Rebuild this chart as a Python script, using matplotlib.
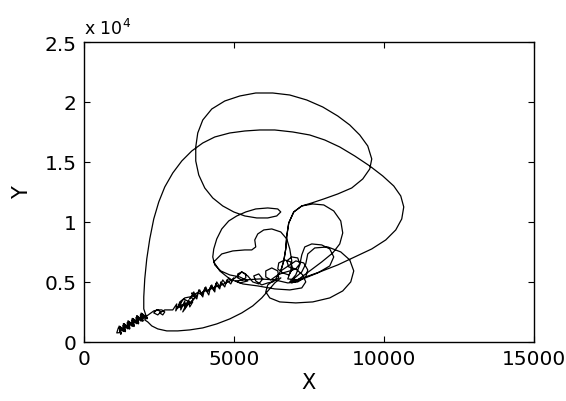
import matplotlib
matplotlib.use('Agg')
import matplotlib.pyplot as plt

plt.rcParams['font.family'] = 'DejaVu Sans'

# traced trajectory, in pieces (X, Y)
blob_x = [1233, 1173, 1380, 1320, 1527, 1467, 1673, 1613, 1820, 1760, 1967, 1907, 2113,
          2060, 1887, 1913, 1740, 1767, 1593, 1620, 1447, 1473, 1300, 1327, 1153, 1100,
          1200, 1207, 1347, 1353, 1493, 1500, 1640, 1647, 1787, 1793, 1933, 1940, 2080,
          2125, 1932, 1978, 1785, 1832, 1638, 1685, 1492, 1538, 1345, 1392, 1198, 1245,
          1195, 1322, 1342, 1468, 1488, 1615, 1635, 1762, 1782, 1908, 1928, 2055]
blob_y = [633, 1308, 850, 1525, 1067, 1742, 1283, 1958, 1500, 2175, 1717, 2392, 1933,
          1950, 2258, 1733, 2042, 1517, 1825, 1300, 1608, 1083, 1392, 867, 1175, 750,
          775, 1167, 992, 1383, 1208, 1600, 1425, 1817, 1642, 2033, 1858, 2250, 2075,
          1993, 2385, 1777, 2168, 1560, 1952, 1343, 1735, 1127, 1518, 910, 1302, 693,
          1106, 998, 1323, 1214, 1539, 1431, 1756, 1648, 1973, 1864, 2189, 2081]

band_x = [2333, 2467, 2567, 2467, 2333, 2433, 2600, 2700, 2633, 2533, 2700, 2933,
          2967, 3100, 3067, 3233, 3233, 3367, 3367, 3500, 3533, 3633, 3500, 3300, 3133, 3200, 3367, 3533, 3667,
          3467, 3300, 3433, 3133, 3333, 3567, 3700]
band_y = [2583, 2667, 2500, 2250, 2417, 2667, 2667, 2500, 2250, 2417, 2667, 2667,
          2667, 3167, 2583, 3333, 2667, 3417, 2750, 3500, 2917, 3333, 3167, 3000, 2833, 3333, 3667, 3750, 3583,
          3083, 2500, 3250, 2917, 3583, 3250, 3667]

zig_x = [3600, 3767, 3833, 3967, 4033, 4167, 4233, 4367, 4400, 4533, 4567, 4700, 4767, 4900, 5000,
         4933, 4833, 4733, 4633, 4533, 4433, 4333, 4267, 4133, 4067, 3933, 3867, 3733, 3667, 3533,
         3633, 3767, 3900, 4000, 4100, 4233, 4333, 4467, 4600, 4733, 4867, 5000]
zig_y = [4083, 3583, 4333, 3750, 4500, 3917, 4667, 4167, 4833, 4417, 5000, 4583, 5167, 4833, 5333,
         5083, 5333, 4833, 5167, 4583, 5000, 4333, 4750, 4167, 4583, 3917, 4333, 3750, 4167, 3583,
         3833, 4083, 4000, 4250, 4250, 4417, 4500, 4667, 4750, 4917, 5083, 5250]

ring_x = [5133, 5267, 5400, 5400, 5267, 5133, 5133, 5267, 5467]
ring_y = [5500, 5833, 5667, 5333, 5167, 5333, 5667, 5833, 5500]

cluster_x = [5633, 5833, 5967, 5833, 5667, 5733, 5933, 6133, 6300, 6500, 6467, 6267, 6067, 6067, 6233, 6467, 6633,
             6833, 6967, 6900, 6700, 6500, 6467, 6633, 6867, 7067, 7200, 7133, 6933, 6767, 6833, 7067, 7300, 7400,
             7267, 6867, 6367, 5800, 5300, 5067, 5367, 5867, 6367, 6800, 7133, 7400, 7467, 7333, 7067]
cluster_y = [5000, 4833, 5250, 5667, 5500, 5083, 4750, 4917, 5000, 5333, 5917, 6167, 5917, 5417, 5167, 5583, 5750,
             5583, 6083, 6667, 6833, 6583, 6083, 5750, 5917, 6083, 6500, 7000, 7083, 6750, 6250, 6083, 5583, 5000,
             4500, 4333, 4417, 4667, 4833, 5083, 5167, 5250, 5167, 4917, 5000, 5417, 6000, 6583, 6750]

top_x = [6567, 6667, 6733, 6767, 6833, 7000, 7267, 7600, 8000, 8467, 8933, 9300, 9533, 9600, 9467, 9200, 8867, 8467,
         7967, 7433, 6867, 6300, 5733, 5200, 4700, 4267, 3967, 3800, 3733, 3733, 3833, 4033, 4300, 4633, 5000, 5367,
         5767, 6133, 6433, 6567, 6467, 6133, 5733, 5400, 5100, 4833, 4600, 4433, 4333, 4300, 4367, 4567, 4867, 5200]
top_y = [5917, 6750, 7750, 8833, 9917, 10833, 11333, 11583, 11917, 12333, 12833, 13583, 14417, 15250, 16333, 17250,
         18083, 18833, 19583, 20167, 20583, 20750, 20750, 20500, 20083, 19417, 18500, 17417, 16250, 15083, 13917,
         12833, 12000, 11333, 10833, 10500, 10333, 10333, 10500, 10833, 11083, 11167, 11083, 10833, 10500, 10083,
         9417, 8583, 7750, 7083, 6417, 5917, 5583, 5417]

heart_x = [5467, 5200, 4867, 4533, 4333, 4600, 4967, 5367, 5600, 5733, 5700, 5800, 6000, 6267, 6567, 6767, 6867, 6933, 6900, 6800]
heart_y = [5083, 4917, 5250, 5917, 6667, 7333, 7583, 7667, 7667, 7917, 8500, 9000, 9333, 9417, 9167, 8583, 7750, 6750, 5917, 5250]

r_x = [7133, 7533, 7933, 8300, 8533, 8633, 8567, 8333, 8000, 7633, 7267, 7000, 6833, 6767, 6733, 6667, 6567, 6400]
r_y = [5167, 5917, 6667, 7417, 8167, 9083, 10083, 10917, 11417, 11500, 11333, 10833, 9917, 8833, 7750, 6750, 5917, 5250]

l_x = [6133, 6067, 6200, 6533, 7067, 7633, 8200, 8633, 8900, 9000, 8867, 8567, 8133, 7700, 7467, 7400, 7267, 7033]
l_y = [4750, 4167, 3667, 3333, 3250, 3333, 3667, 4250, 5000, 5917, 6833, 7500, 7917, 7833, 7333, 6500, 5833, 5333]

inner_x = [6933, 7300, 7800, 8200, 8333, 8200, 7933, 7600, 7367, 7267, 7200, 7067]
inner_y = [4917, 5250, 5750, 6333, 7083, 7750, 8083, 8167, 7917, 7250, 6417, 5583]

outer_x = [6867, 7300, 7867, 8467, 9033, 9600, 10067, 10400, 10600, 10667, 10567, 10333, 9967, 9533, 9033, 8533,
           8033, 7533, 6967, 6367, 5867, 5367, 4867, 4367, 3967, 3600, 3267, 2967, 2700, 2500, 2333, 2200, 2100,
           2033, 2000, 2000, 2067]
outer_y = [5000, 5333, 5833, 6417, 7083, 7750, 8500, 9333, 10250, 11250, 12167, 13000, 13833, 14667, 15500, 16250,
           16833, 17250, 17500, 17667, 17667, 17583, 17417, 17083, 16583, 15917, 15083, 14083, 12917, 11667, 10250,
           8583, 6917, 5250, 3750, 2750, 2250]

b_x = [1933, 2100, 2033, 2133, 2267, 2467, 2767, 3133, 3533, 3967, 4433, 4867, 5267, 5633, 5933, 6167, 6367, 6567]
b_y = [1917, 2167, 1833, 1667, 1333, 1083, 917, 917, 1000, 1167, 1500, 1917, 2417, 3000, 3667, 4333, 4917, 5333]

xs = blob_x + band_x + zig_x + ring_x + cluster_x + top_x + heart_x + r_x + l_x + inner_x + outer_x + b_x
ys = blob_y + band_y + zig_y + ring_y + cluster_y + top_y + heart_y + r_y + l_y + inner_y + outer_y + b_y

xticks = [0, 5000, 10000, 15000]
yticks = [0, 5000, 10000, 15000, 20000, 25000]
ytick_labels = ['0', '0.5', '1', '1.5', '2', '2.5']

fig = plt.figure(figsize=(5.66, 4.02), dpi=100)
ax = fig.add_axes([0.148, 0.147, 0.795, 0.746])
ax.plot(xs, ys, color='black', linewidth=0.9)

ax.set_xlim(0, 15000)
ax.set_ylim(0, 25000)
ax.set_xticks(xticks)
ax.set_xticklabels([str(t) for t in xticks])
ax.set_yticks(yticks)
ax.set_yticklabels(ytick_labels)
ax.tick_params(direction='in', top=True, right=True, length=4.5, labelsize=14.5, pad=5)
for s in ax.spines.values():
    s.set_linewidth(1.0)

ax.set_xlabel('X', fontsize=15, labelpad=3)
ax.set_ylabel('Y', fontsize=15, labelpad=9)
ax.text(0, 1.015, r'x 10$^{4}$', transform=ax.transAxes, fontsize=12.5, ha='left', va='bottom')

fig.savefig('out.png', dpi=100)
